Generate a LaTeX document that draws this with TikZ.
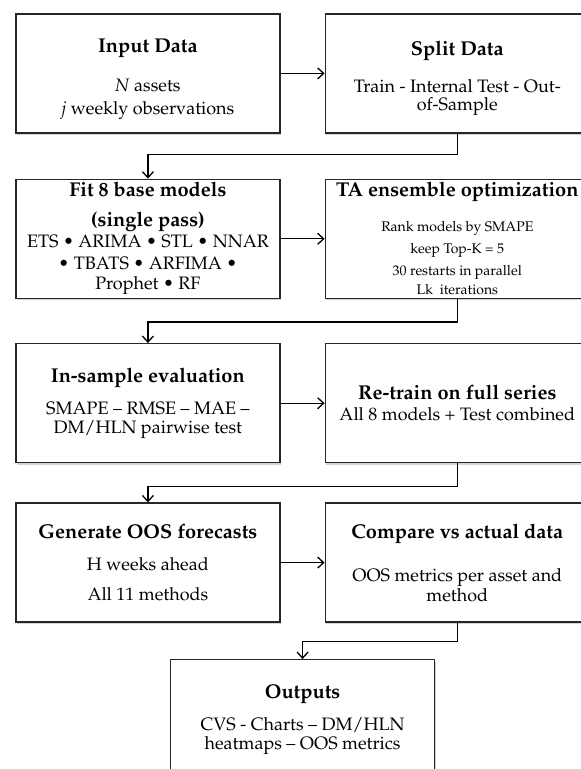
\documentclass[tikz,border=0pt]{standalone}
\usepackage[T1]{fontenc}
\usepackage{mathpazo}
\usepackage{tikz}
\usetikzlibrary{positioning,arrows.meta,shadows}

\newcommand{\hd}[1]{{\fontsize{20}{21}\selectfont\bfseries #1}}

\begin{document}
\begin{tikzpicture}
[ x=1pt, y=1pt
, box/.style={rectangle, draw=black!85, line width=1.4pt, fill=white, minimum width=264pt, minimum height=119pt, inner sep=3pt, align=center, font=\fontsize{18}{21}\selectfont, drop shadow={shadow xshift=1.2pt, shadow yshift=-2pt, opacity=.35}}
, small/.style={font=\fontsize{14}{17}\selectfont}
, flow/.style={line width=1.3pt, -{Straight Barb[length=6pt,width=11pt]}}
]
\useasboundingbox (0,0) rectangle (581,-769);
\matrix (m) [anchor=north west, inner sep=0pt, column sep=44pt, row sep=45pt] at (15,-13) {
% First row:
\node (input) [box] {\rule{0pt}{25pt}\hd{Input Data}\\[18pt] \textit{N} assets\\[2pt] \textit{j} weekly observations}; &
\node (split) [box] {\rule{0pt}{25pt}\hd{Split Data}\\[16pt] Train - Internal Test - Out-\\[-3pt] of-Sample}; \\
% Second row:
\node (fit) [box] {\hd{Fit 8 base models}\\[9pt] \hd{(single pass)}\\[0pt] ETS \textbullet{} ARIMA \textbullet{} STL \textbullet{} NNAR\\[1pt] \textbullet{} TBATS \textbullet{} ARFIMA \textbullet\\[-1pt] Prophet \textbullet{} RF}; &
\node (ta) [box, small] {\hd{TA ensemble optimization}\\[18pt] Rank models by SMAPE\\[5pt] keep Top-K = 5\\[5pt] 30 restarts in parallel\\[2pt] Lk\ \ iterations}; \\[-1pt]
% Third row:
\node (insample) [box] {\hd{In-sample evaluation}\\[11pt] SMAPE -- RMSE -- MAE --\\[-2pt] DM/HLN pairwise test}; &
\node (retrain) [box] {\hd{Re-train on full series}\\ All 8 models + Test combined}; \\[-6pt]
% Fourth row:
\node (generate) [box] {\hd{Generate OOS forecasts}\\[11pt] H weeks ahead\\[9pt] All 11 methods}; &
\node (compare) [box] {\hd{Compare vs actual data}\\[22pt] OOS metrics per asset and\\[-1pt] method}; \\
};
\node (outputs) [box, below=36pt of m.south] {\hd{Outputs}\\[11pt] CVS - Charts -- DM/HLN\\[-2pt] heatmaps -- OOS metrics};
\draw [flow] (input) -- (split);
\draw [flow] (split.south) -- ++(0,-21) -| (fit.north);
\draw [flow] (fit) -- (ta);
\draw [flow] (ta.south) -- ++(0,-23) -| (insample.north);
\draw [flow] (insample) -- (retrain);
\draw [flow] (retrain.south) -- ++(0,-23) -| (generate.north);
\draw [flow] (generate) -- (compare);
\draw [flow] (compare.south) -- ++(0,-19) -| (outputs.north);
\end{tikzpicture}
\end{document}
